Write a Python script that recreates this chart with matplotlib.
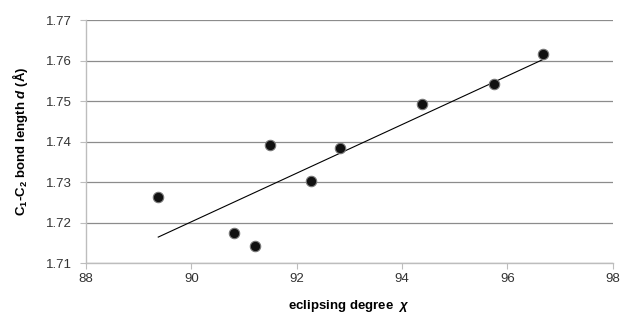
import numpy as np
import matplotlib
matplotlib.use('Agg')
import matplotlib.pyplot as plt

# eclipsing degree vs C1-C2 bond length
chi = [89.37, 90.81, 91.21, 91.50, 92.28, 92.82, 94.37, 95.75, 96.67]
d = [1.7262, 1.7173, 1.7143, 1.7391, 1.7302, 1.7383, 1.7492, 1.7543, 1.7615]

xticks = [88, 90, 92, 94, 96, 98]
yticks = [1.71, 1.72, 1.73, 1.74, 1.75, 1.76, 1.77]

plt.rcParams['font.family'] = ['Liberation Sans', 'DejaVu Sans']
plt.rcParams['mathtext.fontset'] = 'custom'
plt.rcParams['mathtext.rm'] = 'Liberation Sans:bold'
plt.rcParams['mathtext.it'] = 'Liberation Sans:italic:bold'
plt.rcParams['mathtext.bf'] = 'Liberation Sans:bold'

fig = plt.figure(figsize=(6.33, 3.2), dpi=100)
ax = fig.add_axes([0.136, 0.178, 0.832, 0.7595])

ax.set_xlim(88, 98)
ax.set_ylim(1.71, 1.77)
ax.set_xticks(xticks)
ax.set_yticks(yticks)
ax.set_yticklabels(['%.2f' % v for v in yticks])

ax.yaxis.grid(True, color='#8c8c8c', linewidth=0.9)
ax.set_axisbelow(True)
for s in ['top', 'right']:
    ax.spines[s].set_visible(False)
for s in ['left', 'bottom']:
    ax.spines[s].set_color('#bdbdbd')
    ax.spines[s].set_linewidth(1.0)
ax.tick_params(axis='both', colors='#bdbdbd', length=4, labelcolor='#333333', labelsize=9.5)
ax.tick_params(axis='y', pad=6)

# linear trend line
k, b = np.polyfit(chi, d, 1)
xs = np.array([min(chi), max(chi)])
ax.plot(xs, k * xs + b, color='black', linewidth=0.8)

ax.plot(chi, d, 'o', color='#111111', markersize=7.5,
        markeredgecolor='#777777', markeredgewidth=0.8, zorder=3)

ax.set_xlabel(r'eclipsing degree  $\chi$', fontsize=9.5, fontweight='bold', labelpad=9)
ax.set_ylabel(r'C$_1$-C$_2$ bond length $d$ (Å)', fontsize=9.5, fontweight='bold', labelpad=12)

fig.savefig('out.png', dpi=100)
